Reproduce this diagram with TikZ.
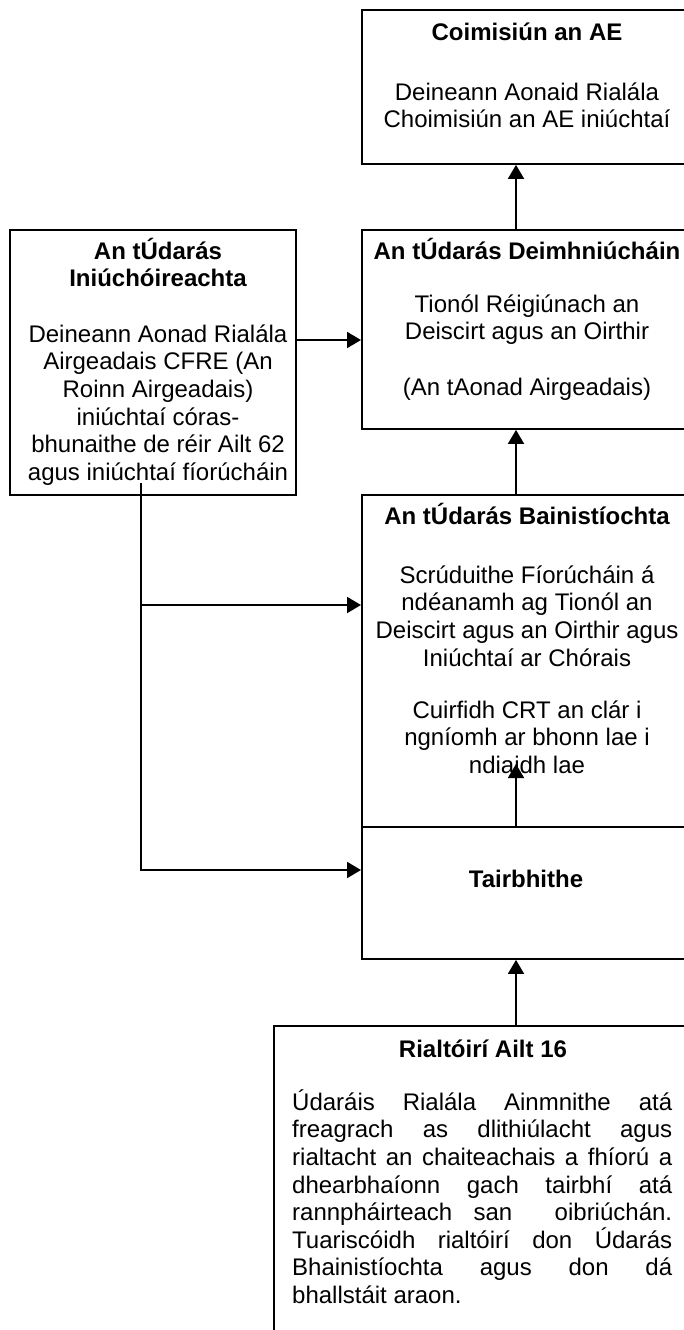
\documentclass[tikz,border=0pt]{standalone}
\usepackage{fontspec}
\setmainfont{Liberation Sans}
\usetikzlibrary{arrows.meta}
\newcommand{\fstrut}{\rule{0pt}{24pt}}
\tikzset{
  box/.style={draw, line width=1.9pt, anchor=north west, inner sep=0pt, outer sep=0.95pt},
  txt/.style={font=\fontsize{24}{27.6}\selectfont, align=center, inner sep=0pt, anchor=north},
  ttl/.style={txt, font=\fontsize{24}{27.6}\selectfont\bfseries},
  arr/.style={line width=1.9pt, -{Triangle[length=14pt,width=16pt]}},
}
\begin{document}
\begin{tikzpicture}[x=1pt,y=-1pt]
\useasboundingbox (0,0) rectangle (684,1330);
\clip (0,0) rectangle (684,1330);

% boxes (right edges run past the frame, as in the reference)
\node[box, minimum width=360pt, minimum height=154pt] (top) at (361,9) {};
\node[box, minimum width=360pt, minimum height=199pt] (deim) at (361,229) {};
\node[box, minimum width=286pt, minimum height=265pt] (left) at (9,229) {};
\node[box, minimum width=360pt, minimum height=332pt] (bain) at (361,494) {};
\node[box, minimum width=360pt, minimum height=132pt] (tairb) at (361,826) {};
\node[box, minimum width=450pt, minimum height=340pt] (rialt) at (273,1025) {};

% texts
\node[ttl] (topT) at (527,16) {\fstrut Coimisiún an AE};
\node[txt] (topB) at (527,76) {\fstrut Deineann Aonaid Rialála\\Choimisiún an AE iniúchtaí};

\node[ttl] (deimT) at (527,235) {\fstrut An tÚdarás Deimhniúcháin};
\node[txt] (deimB) at (527,288) {\fstrut Tionól Réigiúnach an\\Deiscirt agus an Oirthir\\[27.6pt](An tAonad Airgeadais)};

\node[ttl] (leftT) at (158,235) {\fstrut An tÚdarás\\Iniúchóireachta};
\node[txt] (leftB) at (158,318) {\fstrut Deineann Aonad Rialála\\Airgeadais CFRE (An\\Roinn Airgeadais)\\iniúchtaí córas-\\bhunaithe de réir Ailt 62\\agus iniúchtaí fíorúcháin};

\node[ttl] (bainT) at (527,500) {\fstrut An tÚdarás Bainistíochta};
\node[txt] (bainB) at (527,559) {\fstrut Scrúduithe Fíorúcháin á\\ndéanamh ag Tionól an\\Deiscirt agus an Oirthir agus\\Iniúchtaí ar Chórais};
\node[txt] (bainC) at (527,694) {\fstrut Cuirfidh CRT an clár i\\ngníomh ar bhonn lae i\\ndiaidh lae};

\node[ttl] (tairbT) at (526,863) {\fstrut Tairbhithe};

\node[ttl] (rialtT) at (483,1033) {\fstrut Rialtóirí Ailt 16};
\node[txt, align=left, anchor=north west] (rialtB) at (292,1086) {\fstrut\makebox[380pt][s]{Údaráis Rialála Ainmnithe atá}\\
\makebox[380pt][s]{freagrach as dlithiúlacht agus}\\
\makebox[380pt][s]{rialtacht an chaiteachais a fhíorú a}\\
\makebox[380pt][s]{dhearbhaíonn gach tairbhí atá}\\
\makebox[380pt][s]{rannpháirteach san\ \ oibriúchán.}\\
\makebox[380pt][s]{Tuariscóidh rialtóirí don Údarás}\\
\makebox[380pt][s]{Bhainistíochta agus don dá}\\
bhallstáit araon.};

% connectors
\coordinate (ax) at (516,0);
\coordinate (ay) at (0,340);
\coordinate (tipB) at (516,764);
\coordinate (lstart) at (141,483);
\coordinate (by) at (0,605);
\coordinate (ty) at (0,870);
\draw[arr] (deim.north -| ax) -- (top.south -| ax);
\draw[arr] (left.east |- ay) -- (deim.west |- ay);
\draw[arr] (bain.north -| ax) -- (deim.south -| ax);
\draw[arr] (tairb.north -| ax) -- (tipB);
\draw[arr] (rialt.north -| ax) -- (tairb.south -| ax);
\draw[arr] (lstart) |- (tairb.west |- ty);
\draw[arr] (lstart |- by) -- (bain.west |- by);
\end{tikzpicture}
\end{document}
